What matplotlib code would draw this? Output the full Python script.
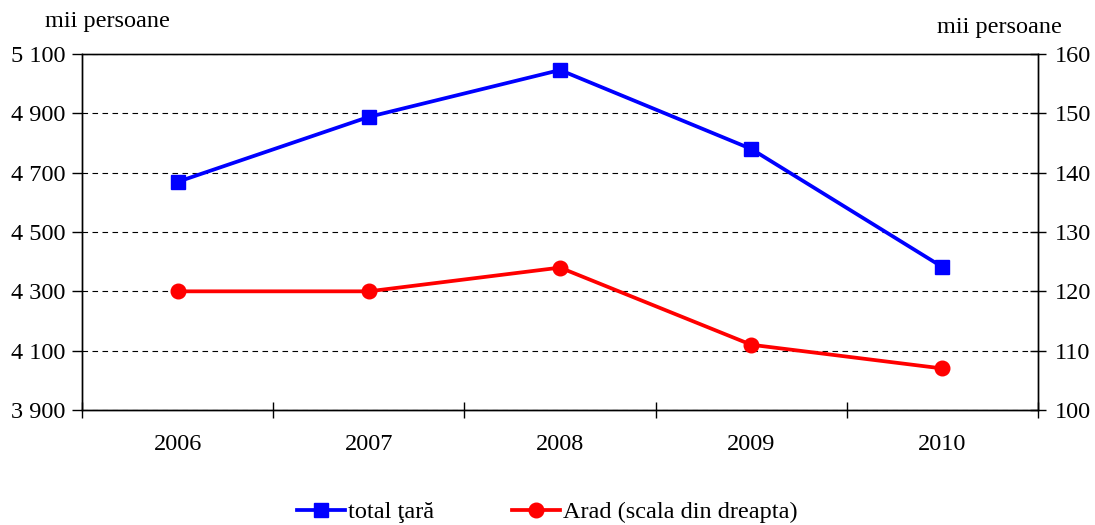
import matplotlib
matplotlib.use("Agg")
import matplotlib.pyplot as plt

# Date
ani = ["2006", "2007", "2008", "2009", "2010"]
total_tara = [4669, 4888, 5046, 4780, 4382]
arad = [120, 120, 124, 111, 107]

plt.rcParams['font.family'] = ['Liberation Serif', 'DejaVu Serif']
plt.rcParams['font.size'] = 17.5

fig = plt.figure(figsize=(10.95, 5.25), dpi=100)
ax = fig.add_axes([82/1095, 1 - 410/525, (1038-82)/1095, (410-54)/525])
ax2 = ax.twinx()

x = range(len(ani))
l1, = ax.plot(x, total_tara, color='#0000ff', lw=2.7, marker='s', ms=10.5,
              label='total ţară', zorder=3)
l2, = ax2.plot(x, arad, color='#ff0000', lw=2.7, marker='o', ms=10.5,
               label='Arad (scala din dreapta)', zorder=3)

ax.set_xlim(-0.5, 4.5)
ax.set_ylim(3900, 5100)
ax2.set_ylim(100, 160)
ax.set_yticks(range(3900, 5101, 200))
ax.set_yticklabels([f"{v:,}".replace(",", " ") for v in range(3900, 5101, 200)])
ax2.set_yticks(range(100, 161, 10))

# ticks categorii intre ani
ax.set_xticks([i + 0.5 for i in range(-1, 5)])
ax.set_xticklabels([])
ax.set_xticks(list(x), minor=True)
ax.set_xticklabels(ani, minor=True)
ax.tick_params(axis='x', which='major', direction='inout', length=12, width=1)
ax.tick_params(axis='x', which='minor', length=0, pad=17)
ax.tick_params(axis='y', direction='out', length=7, width=1, pad=5)
ax2.tick_params(axis='y', direction='inout', length=12, width=1, pad=6)

ax.grid(axis='y', color='black', ls=(0, (5, 4)), lw=0.8)
ax.spines['top'].set_color('#444444')
for a in (ax, ax2):
    for sp in a.spines.values():
        sp.set_linewidth(1)

fig.text(45/1095, 1 - 22/525, 'mii persoane', ha='left', va='center')
fig.text(1062/1095, 1 - 27/525, 'mii persoane', ha='right', va='center')

fig.legend(handles=[l1, l2], loc='center', bbox_to_anchor=(547/1095, 1 - 512/525),
           ncol=2, frameon=False, handlelength=2, columnspacing=3.2, handletextpad=0.1)

fig.savefig('out.png', dpi=100)
